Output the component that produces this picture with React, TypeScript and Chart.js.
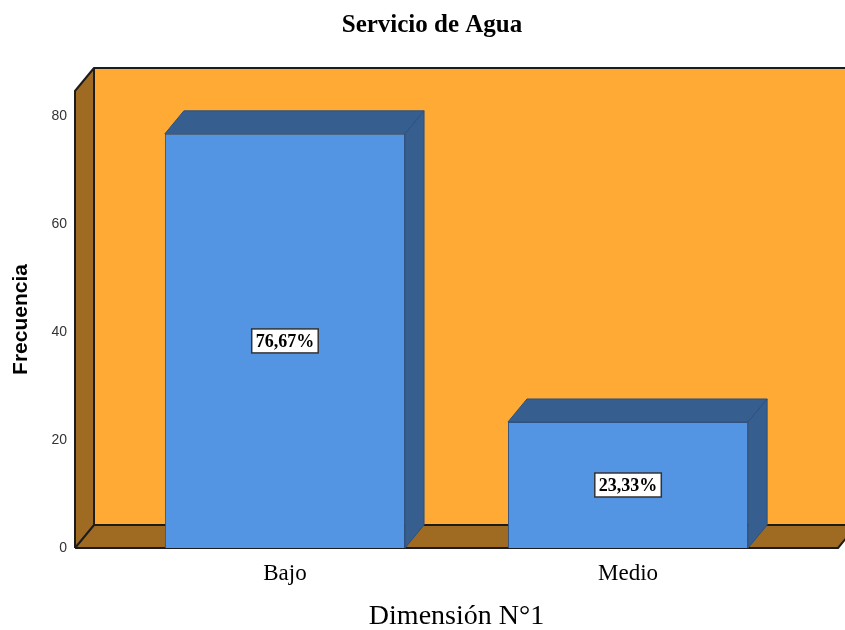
import React, { useEffect, useRef } from "react";
import { Chart, registerables } from "chart.js";

Chart.register(...registerables);

const categories: string[] = ["Bajo", "Medio"];
const frequencies: number[] = [76.67, 23.33];
const percentLabels: string[] = ["76,67%", "23,33%"];
const yTickValues: number[] = [0, 20, 40, 60, 80];
const chartTitle = "Servicio de Agua";
const xAxisTitle = "Dimensión N°1";
const yAxisTitle = "Frecuencia";

const DEPTH_X = 19;
const DEPTH_Y = -23;
const WALL = "#FEAA35";
const WALL_SIDE = "#9F6B23";
const EDGE = "#1c1c1c";
const BAR_FRONT = "#5394E3";
const BAR_DARK = "#365E8F";
const BAR_EDGE = "#2E5180";

const box3dPlugin = {
  id: "box3d",
  beforeDatasetsDraw(chart: any) {
    const { ctx, chartArea } = chart;
    const L = chartArea.left, R = chartArea.right, T = chartArea.top, B = chartArea.bottom;
    const dx = DEPTH_X, dy = DEPTH_Y;
    ctx.save();
    ctx.fillStyle = WALL;
    ctx.fillRect(L + dx, T + dy, R - L, B - T);
    ctx.fillStyle = WALL_SIDE;
    ctx.beginPath();
    ctx.moveTo(L, T);
    ctx.lineTo(L + dx, T + dy);
    ctx.lineTo(L + dx, B + dy);
    ctx.lineTo(L, B);
    ctx.closePath();
    ctx.fill();
    ctx.beginPath();
    ctx.moveTo(L, B);
    ctx.lineTo(L + dx, B + dy);
    ctx.lineTo(R + dx, B + dy);
    ctx.lineTo(R, B);
    ctx.closePath();
    ctx.fill();
    ctx.strokeStyle = EDGE;
    ctx.lineWidth = 2;
    ctx.lineJoin = "round";
    ctx.beginPath();
    ctx.moveTo(L, B);
    ctx.lineTo(L, T);
    ctx.lineTo(L + dx, T + dy);
    ctx.lineTo(R + dx, T + dy);
    ctx.moveTo(L + dx, T + dy);
    ctx.lineTo(L + dx, B + dy);
    ctx.lineTo(R + dx, B + dy);
    ctx.moveTo(L, B);
    ctx.lineTo(L + dx, B + dy);
    ctx.moveTo(L, B);
    ctx.lineTo(R, B);
    ctx.lineTo(R + dx, B + dy);
    ctx.stroke();
    ctx.restore();
  },
  afterDatasetsDraw(chart: any) {
    const { ctx } = chart;
    const dx = DEPTH_X, dy = DEPTH_Y;
    const meta = chart.getDatasetMeta(0);
    ctx.save();
    meta.data.forEach((bar: any, i: number) => {
      const { x, y, base, width } = bar.getProps(["x", "y", "base", "width"], true);
      const l = x - width / 2, r = x + width / 2;
      ctx.fillStyle = BAR_DARK;
      ctx.strokeStyle = BAR_EDGE;
      ctx.lineWidth = 1;
      ctx.beginPath();
      ctx.moveTo(l, y);
      ctx.lineTo(l + dx, y + dy);
      ctx.lineTo(r + dx, y + dy);
      ctx.lineTo(r, y);
      ctx.closePath();
      ctx.fill();
      ctx.stroke();
      ctx.beginPath();
      ctx.moveTo(r, y);
      ctx.lineTo(r + dx, y + dy);
      ctx.lineTo(r + dx, base + dy);
      ctx.lineTo(r, base);
      ctx.closePath();
      ctx.fill();
      ctx.stroke();

      const txt = percentLabels[i];
      ctx.font = "bold 18px 'Liberation Serif'";
      const tw = ctx.measureText(txt).width;
      const cy = (y + base) / 2;
      const bw = tw + 8, bh = 24;
      ctx.fillStyle = "#ffffff";
      ctx.fillRect(x - bw / 2, cy - bh / 2, bw, bh);
      ctx.strokeStyle = "#333333";
      ctx.lineWidth = 1.5;
      ctx.strokeRect(x - bw / 2, cy - bh / 2, bw, bh);
      ctx.fillStyle = "#000000";
      ctx.textAlign = "center";
      ctx.textBaseline = "middle";
      ctx.fillText(txt, x, cy + 1);
    });
    ctx.restore();
  },
};

const titlePlugin = {
  id: "customTitle",
  afterDraw(chart: any) {
    const { ctx } = chart;
    ctx.save();
    ctx.font = "bold 25px 'Liberation Serif'";
    ctx.fillStyle = "#000000";
    ctx.textAlign = "center";
    ctx.textBaseline = "alphabetic";
    ctx.fillText(chartTitle, 432, 32);
    ctx.restore();
  },
};

export default function App() {
  const canvasRef = useRef<HTMLCanvasElement | null>(null);

  useEffect(() => {
    document.body.style.margin = "0";
    const canvas = canvasRef.current;
    if (!canvas) return;
    const chart = new Chart(canvas, {
      type: "bar",
      data: {
        datasets: [
          {
            label: yAxisTitle,
            data: categories.map((c, i) => ({ x: i, y: frequencies[i] })),
            backgroundColor: BAR_FRONT,
            borderColor: BAR_EDGE,
            borderWidth: 1,
            barPercentage: 0.7,
            categoryPercentage: 1,
          },
        ],
      },
      options: {
        responsive: false,
        animation: false,
        events: [],
        layout: { padding: { top: 91, right: 7, left: 0, bottom: 0 } },
        plugins: {
          legend: { display: false },
          tooltip: { enabled: false },
          title: { display: false },
        },
        scales: {
          x: {
            type: "linear",
            offset: false,
            min: -0.612,
            max: 1.612,
            grid: { display: false, drawTicks: false, offset: false },
            border: { display: false },
            afterBuildTicks: (scale: any) => {
              scale.ticks = categories.map((_, i) => ({ value: i }));
            },
            afterFit: (scale: any) => {
              scale.height = 82;
            },
            ticks: {
              padding: 12,
              color: "#000000",
              font: { family: "'Liberation Serif'", size: 23 },
              callback: (v: any) => categories[Math.round(Number(v))] ?? "",
            },
            title: {
              display: true,
              text: xAxisTitle,
              color: "#000000",
              font: { family: "'Liberation Serif'", size: 28 },
              padding: { top: 0, bottom: -3 },
            },
          },
          y: {
            type: "linear",
            min: 0,
            max: 84.6,
            grid: { display: false, drawTicks: false },
            border: { display: false },
            afterBuildTicks: (scale: any) => {
              scale.ticks = yTickValues.map((v) => ({ value: v }));
            },
            afterFit: (scale: any) => {
              scale.width = 75;
            },
            ticks: {
              padding: 8,
              color: "#333333",
              font: { family: "'Liberation Sans'", size: 14 },
            },
            title: {
              display: true,
              text: yAxisTitle,
              color: "#000000",
              font: { family: "'Liberation Sans'", size: 21, weight: "bold" },
              padding: { top: 9, bottom: 0 },
            },
          },
        },
      },
      plugins: [box3dPlugin, titlePlugin],
    });
    return () => chart.destroy();
  }, []);

  return (
    <canvas
      ref={canvasRef}
      width={845}
      height={630}
      style={{ display: "block", width: 845, height: 630 }}
    />
  );
}
